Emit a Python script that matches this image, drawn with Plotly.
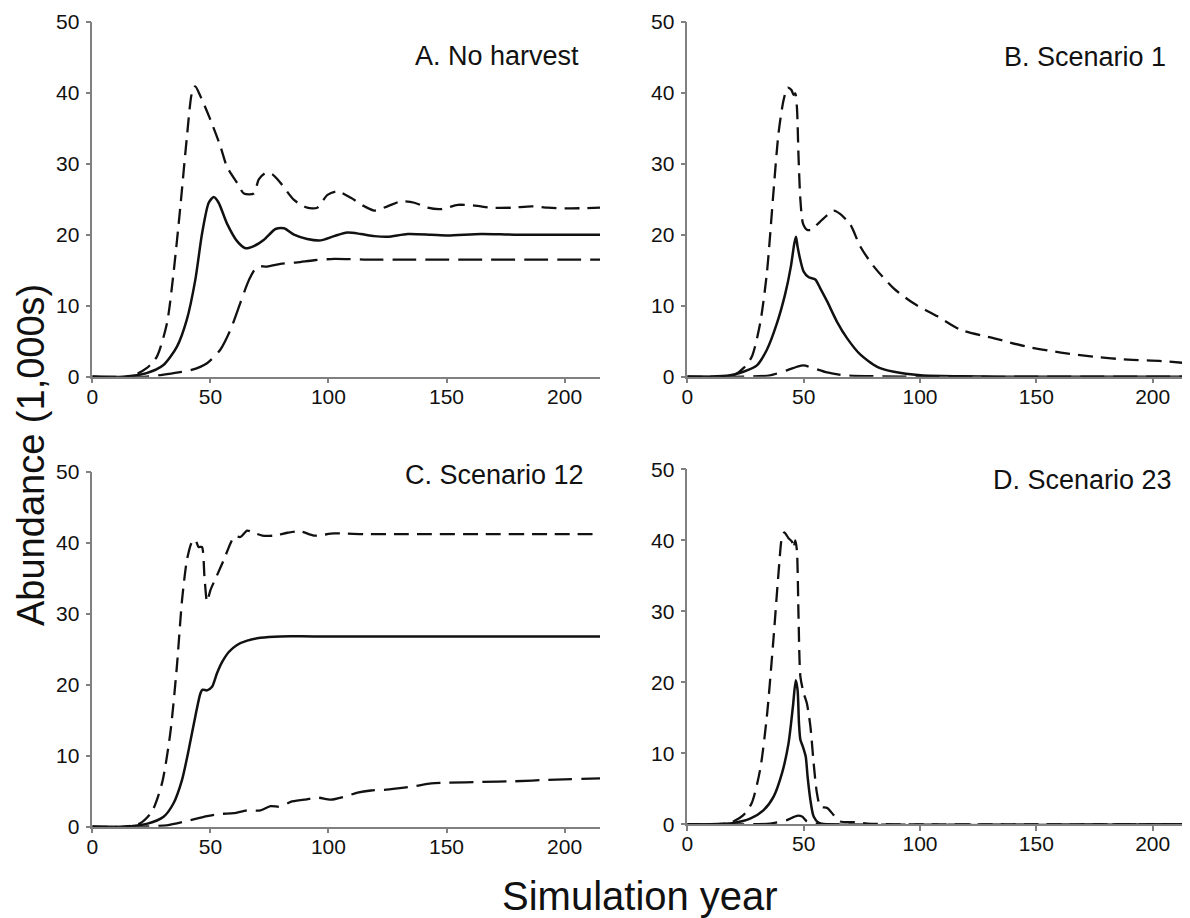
import plotly.graph_objects as go

# ---------------- data ----------------
# Panel A. No harvest
a_up_x = [0, 16, 23, 27.3, 31.6, 34.4, 37.3, 40.1, 42.2, 43.6, 45.8, 50, 54.2, 57, 61.3, 64.2, 68.4, 70.5, 73.4, 76.2, 79.7, 85.4, 91, 95.3, 99.6, 103.8, 109.5, 115.2, 119.4, 125, 130.7, 136.4, 142, 147.7, 154.8, 161.9, 169, 177.5, 186, 193, 201.6, 215]
a_up_y = [0, 0, 1.2, 2.8, 7.5, 14.6, 24, 33.9, 40, 40.9, 39.5, 36.2, 32.5, 29.6, 27.3, 25.8, 25.8, 27.8, 28.7, 28.5, 27.3, 24.9, 23.8, 23.8, 25.6, 26.1, 25.2, 24, 23.4, 24, 24.7, 24.5, 23.8, 23.6, 24.2, 24.1, 23.8, 23.8, 24, 23.8, 23.7, 23.8]
a_mid_x = [0, 13, 23, 30, 35.8, 40, 43.6, 46.5, 49.3, 51.4, 53.5, 57, 61.3, 64.9, 68.4, 72.7, 77.6, 81.2, 85.4, 91, 96.7, 102.4, 108, 113.7, 119.4, 125, 133.6, 143.5, 150.6, 164.7, 178.9, 215]
a_mid_y = [0, 0, 0.5, 1.6, 4.2, 8, 13.6, 20.2, 24.5, 25.3, 24.5, 21.6, 19.1, 18.1, 18.4, 19.3, 20.8, 20.9, 20, 19.4, 19.2, 19.8, 20.3, 20.1, 19.8, 19.7, 20.1, 20, 19.9, 20.1, 20, 20]
a_low_x = [0, 23, 34.4, 41.5, 48.6, 54.2, 58.5, 62.7, 66.3, 69.8, 74, 79.7, 86.8, 93.9, 102.4, 115, 136.4, 215]
a_low_y = [0, 0, 0.5, 0.9, 1.9, 3.8, 6.6, 10.4, 13.6, 15.5, 15.5, 15.9, 16.1, 16.4, 16.6, 16.5, 16.5, 16.5]

# Panel B. Scenario 1
b_up_x = [0, 9.8, 19.8, 24.1, 27.7, 31.3, 34.2, 37.1, 39.2, 41.4, 43.1, 44.7, 45.7, 46.4, 47.1, 47.8, 48.6, 49.7, 51.4, 53.6, 55.7, 58.6, 62.9, 65.8, 70.1, 74.4, 80.2, 88.8, 97.4, 107.5, 117.5, 131.9, 146.3, 160.6, 175, 189.4, 203.7, 215]
b_up_y = [0, 0, 0.2, 1.2, 2.8, 7.5, 14.6, 26.3, 34.3, 39, 40.7, 40.4, 39.7, 39.9, 38, 31, 24.9, 21.6, 20.7, 20.7, 21.4, 22.3, 23.4, 22.9, 21.4, 18.3, 15.5, 12.4, 10.3, 8.5, 6.6, 5.4, 4.2, 3.4, 2.8, 2.4, 2.2, 1.9]
b_mid_x = [0, 9.8, 18.4, 24.1, 29.9, 34.2, 38.5, 42.1, 44.5, 46, 46.7, 47.4, 48.6, 50, 52.2, 55, 57.2, 60.1, 64.4, 68.7, 74.4, 81.6, 88.8, 100.3, 117.5, 131.9, 215]
b_mid_y = [0, 0, 0.2, 0.7, 1.6, 3.8, 7.5, 11.7, 15.5, 18.8, 19.7, 18.3, 16.4, 14.8, 14, 13.7, 12.4, 10.6, 7.7, 5.4, 3.1, 1.4, 0.7, 0.2, 0.05, 0, 0]
b_low_x = [0, 24.1, 35.6, 42.8, 47.1, 50, 54.3, 60.1, 67.2, 81.6, 100, 215]
b_low_y = [0, 0, 0.2, 0.9, 1.4, 1.6, 1.2, 0.6, 0.2, 0.05, 0, 0]

# Panel C. Scenario 12
c_up_x = [0, 13.2, 20.3, 25.2, 29.5, 33, 35.8, 38, 40.1, 42.2, 43.6, 45, 46.4, 47.5, 48.6, 50, 52.8, 55.7, 58.5, 60.2, 62.7, 65.6, 68.4, 72, 76.9, 82.6, 88.2, 93.9, 102.4, 115.2, 129.3, 143.5, 164.7, 193, 215]
c_up_y = [0, 0, 0.5, 2.1, 6.1, 13.1, 22.5, 31.9, 37.6, 40.1, 40.4, 39.4, 39.4, 35.2, 31.7, 33.3, 35.4, 37.6, 39.9, 40.9, 40.8, 41.7, 41.4, 41, 41, 41.4, 41.6, 41, 41.3, 41.2, 41.2, 41.2, 41.2, 41.2, 41.2]
c_mid_x = [0, 13.2, 23, 30.2, 34.4, 38, 40.8, 43.6, 45.8, 46.7, 48.6, 50.7, 52.8, 55, 57.8, 61.3, 65.6, 71.2, 79.7, 93.9, 215]
c_mid_y = [0, 0, 0.4, 1.4, 3.3, 6.6, 10.8, 15.5, 18.8, 19.3, 19.2, 19.7, 21.6, 23.2, 24.6, 25.6, 26.2, 26.6, 26.8, 26.8, 26.8]
c_low_x = [0, 20.3, 31.6, 40.1, 48.6, 54.2, 59.9, 65.6, 71.2, 75.5, 79.7, 84, 89.7, 95.3, 101, 106.6, 112.3, 118, 123.6, 129.3, 136.4, 143.5, 150.6, 164.7, 178.9, 193, 215]
c_low_y = [0, 0, 0.2, 0.8, 1.5, 1.8, 1.9, 2.3, 2.3, 2.9, 2.8, 3.5, 3.8, 4.1, 3.8, 4.2, 4.8, 5.1, 5.2, 5.4, 5.7, 6.1, 6.2, 6.3, 6.4, 6.6, 6.8]

# Panel D. Scenario 23
d_up_x = [0, 9.8, 18.4, 24.1, 27.7, 31.3, 34.2, 37.1, 39.2, 40.7, 41.7, 43.5, 45, 45.7, 46.4, 47.1, 47.8, 48.6, 50, 51.4, 52.9, 54.3, 55.7, 57.2, 60.1, 62.9, 65.8, 71.6, 77.3, 88.8, 215]
d_up_y = [0, 0, 0.2, 1.3, 3, 7.7, 15.2, 26.4, 35.4, 40.5, 41.1, 40.3, 39.8, 38.9, 40, 38.6, 29.2, 20.8, 18.5, 17, 13.8, 8.6, 4.4, 2.5, 2.3, 1.3, 0.4, 0.3, 0.1, 0, 0]
d_mid_x = [0, 9.8, 19.8, 27, 32.8, 37.1, 40.7, 43.5, 45.4, 46.6, 47.4, 48, 48.6, 49.7, 50.9, 51.7, 52.9, 54.3, 56.5, 60.1, 215]
d_mid_y = [0, 0, 0.2, 0.8, 2, 3.9, 7.2, 11.4, 16.6, 20.3, 18.9, 14.2, 11.9, 10.9, 9.5, 6.7, 3.4, 1.1, 0.2, 0, 0]
d_low_x = [0, 24.1, 35.6, 42.8, 47.1, 49.3, 51.4, 55.7, 60, 215]
d_low_y = [0, 0, 0.1, 0.6, 1.2, 1.1, 0.4, 0.1, 0, 0]

panel_titles = ["A. No harvest", "B. Scenario 1", "C. Scenario 12", "D. Scenario 23"]
x_ticks = [0, 50, 100, 150, 200]
y_ticks = [0, 10, 20, 30, 40, 50]
x_title = "Simulation year"
y_title = "Abundance (1,000s)"

panels = [
    (a_up_x, a_up_y, a_mid_x, a_mid_y, a_low_x, a_low_y),
    (b_up_x, b_up_y, b_mid_x, b_mid_y, b_low_x, b_low_y),
    (c_up_x, c_up_y, c_mid_x, c_mid_y, c_low_x, c_low_y),
    (d_up_x, d_up_y, d_mid_x, d_mid_y, d_low_x, d_low_y),
]

# ---------------- layout geometry (figure pixels; page adds an 8px body margin) ----------------
W, H = 1182, 910
FONT = "Liberation Sans, Arial, sans-serif"
# (x_left, x_right, y_top, y_bottom)
boxes = [
    (84.3, 592.0, 13.7, 368.7),
    (679.3, 1179.6, 13.7, 368.7),
    (84.3, 592.0, 463.7, 818.7),
    (679.3, 1179.6, 461.3, 816.3),
]
title_pos = [(573, 48), (1160, 49), (578, 467), (1166, 472)]

fig = go.Figure()
styles = [
    dict(color="#111111", width=2.3, dash="15px,8px"),
    dict(color="#111111", width=2.5),
    dict(color="#111111", width=2.3, dash="24px,9px"),
]

for i, p in enumerate(panels):
    sfx = "" if i == 0 else str(i + 1)
    for k in range(3):
        fig.add_trace(go.Scatter(
            x=p[2 * k], y=p[2 * k + 1], mode="lines",
            line=dict(shape="spline", smoothing=0.7, **styles[k]),
            xaxis="x" + sfx, yaxis="y" + sfx, showlegend=False, hoverinfo="skip"))
    xl, xr, yt, yb = boxes[i]
    ax = dict(
        domain=[xl / W, xr / W], range=[0, 215], tickvals=x_ticks,
        showgrid=False, zeroline=False, showline=True, linecolor="#808080", linewidth=1.5,
        ticks="outside", ticklen=5, tickcolor="#808080", tickwidth=1.5,
        tickfont=dict(family=FONT, size=21, color="#111111"), ticklabelstandoff=-5,
        anchor="y" + sfx, fixedrange=True, automargin=False)
    ay = dict(
        domain=[1 - yb / H, 1 - yt / H], range=[0, 50], tickvals=y_ticks,
        showgrid=False, zeroline=False, showline=True, linecolor="#808080", linewidth=1.5,
        ticks="outside", ticklen=5, tickcolor="#808080", tickwidth=1.5,
        tickfont=dict(family=FONT, size=21, color="#111111"), ticklabelstandoff=2,
        anchor="x" + sfx, fixedrange=True, automargin=False)
    fig.update_layout(**{"xaxis" + sfx: ax, "yaxis" + sfx: ay})
    tx, ty = title_pos[i]
    fig.add_annotation(text=panel_titles[i], xref="paper", yref="paper",
                       x=tx / W, y=1 - ty / H, xanchor="right", yanchor="middle",
                       showarrow=False, font=dict(family=FONT, size=27, color="#111111"))

fig.add_annotation(text=x_title, xref="paper", yref="paper", x=632 / W, y=1 - 888 / H,
                   xanchor="center", yanchor="middle", showarrow=False,
                   font=dict(family=FONT, size=40, color="#111111"))
fig.add_annotation(text=y_title, xref="paper", yref="paper", x=23 / W, y=1 - 447 / H,
                   xanchor="center", yanchor="middle", textangle=-90, showarrow=False,
                   font=dict(family=FONT, size=38, color="#111111"))

fig.update_layout(width=W, height=H, margin=dict(l=0, r=0, t=0, b=0),
                  paper_bgcolor="white", plot_bgcolor="white")

fig.write_html("out.html")
